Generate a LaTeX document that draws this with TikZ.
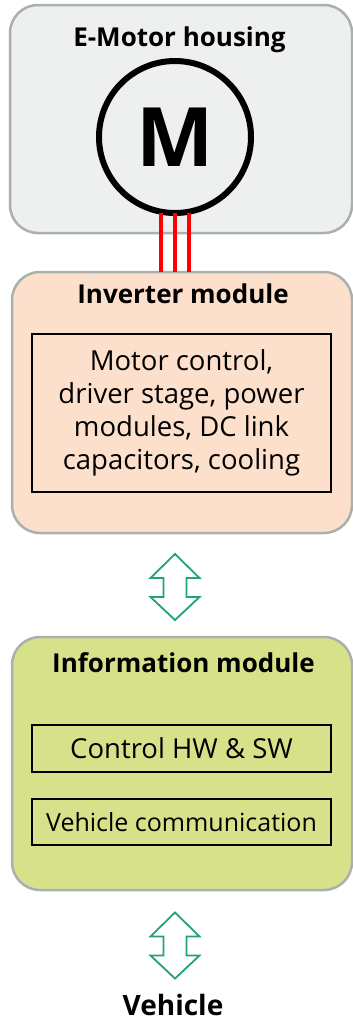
\documentclass[tikz,border=0pt]{standalone}
\usepackage{fontspec}
\setmainfont{Open Sans}
\usetikzlibrary{calc}
\definecolor{housingfill}{HTML}{EEEFEF}
\definecolor{boxborder}{HTML}{A9B0AD}
\definecolor{peach}{HTML}{FCE0CC}
\definecolor{lime}{HTML}{D7E18A}
\definecolor{teal}{HTML}{22A07F}
\definecolor{wire}{HTML}{FF0000}
\tikzset{
  module/.style={draw=boxborder, line width=2.5pt, rounded corners=28pt, minimum width=340pt},
  title/.style={font=\fontsize{26}{30}\selectfont\bfseries, anchor=base, inner sep=0pt},
  inner/.style={draw=black, line width=1.5pt, minimum width=299pt, inner sep=0pt, align=center,
    font=\fontsize{27.5}{33}\selectfont},
  wireline/.style={wire, line width=3.5pt},
  bothway/.pic={\draw[teal, line width=1.8pt, line join=miter, fill=white]
    (0,-33) -- (24.5,-9) -- (11.5,-9) -- (11.5,10) -- (24.5,10) -- (0,33)
    -- (-24.5,10) -- (-11.5,10) -- (-11.5,-9) -- (-24.5,-9) -- cycle;}
}
\begin{document}
\begin{tikzpicture}[x=1pt,y=-1pt]
\useasboundingbox (0,0) rectangle (353,1021);
% modules
\node[module, fill=housingfill, minimum width=342pt, minimum height=228pt] (housing) at (181,119) {};
\node[module, fill=peach, minimum height=261pt] (inv) at (182,402.5) {};
\node[module, fill=lime, minimum height=253pt] (info) at (182,763.5) {};
% titles
\node[title] (htitle) at (179.5,46) {E-Motor housing};
\node[title] (ititle) at (183,303) {Inverter module};
\node[title] (ftitle) at (183.5,672) {Information module};
% motor
\node[draw=black, circle, line width=6pt, minimum size=152pt, inner sep=0pt,
  font=\fontsize{82}{82}\selectfont\bfseries] (m) at (175,137) {M};
% wires
\foreach \dx in {-14,0,14}
  \draw[wireline] ($(m.south)+(\dx,-3)$) -- ($(inv.north)+(\dx-7,1.5)$);
% inverter inner
\node[inner, minimum height=158pt] (invin) at (181.5,413) {Motor control,\\driver stage, power\\modules, DC link\\capacitors, cooling};
% info inner
\node[inner, minimum height=47pt] (ctrl) at (181.5,748.5) {Control HW \& SW};
\node[inner, minimum height=46pt, font=\fontsize{25}{30}\selectfont] (comm) at (181.5,822) {Vehicle communication};
% arrows
\coordinate (a1) at (175,587);
\coordinate (a2) at (175,945.5);
\pic at (a1) {bothway};
\pic at (a2) {bothway};
\node[title, font=\fontsize{28}{30}\selectfont\bfseries] (veh) at (173,1015.5) {Vehicle};
\end{tikzpicture}
\end{document}
